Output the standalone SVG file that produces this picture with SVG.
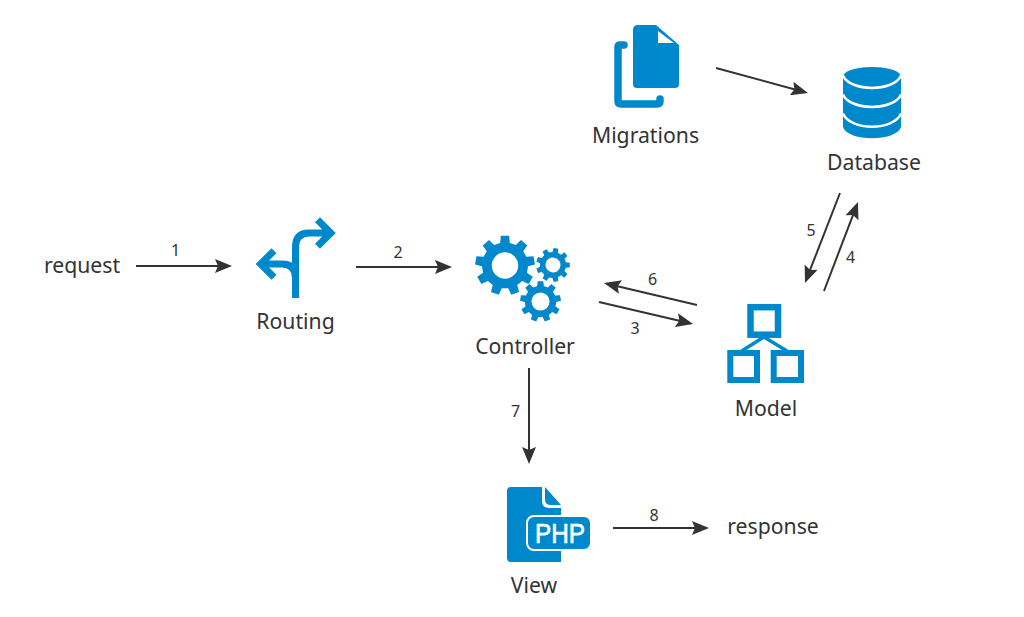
<svg xmlns="http://www.w3.org/2000/svg" width="1024" height="617" viewBox="0 0 1024 617">
<style>
text{font-family:"Noto Sans","Open Sans",sans-serif;fill:#333}
.l{font-size:21.200px;text-anchor:middle}
.n{font-size:16px;text-anchor:middle}
.c line{stroke:#333;stroke-width:2;marker-end:url(#a)}
.i{fill:#0088cc}
.s{fill:none;stroke:#0088cc}
</style>
<defs>
<marker id="a" markerUnits="userSpaceOnUse" markerWidth="18" markerHeight="14" refX="14" refY="7" orient="auto"><path d="M0 0L17 7L0 14L3 7Z" fill="#333"/></marker>
<path id="gear" fill-rule="evenodd" d="M-16 -75.300L-13.900 -99L13.900 -99L16 -75.300L36.200 -68L53 -84.800L74.300 -66.900L60.700 -47.400L71.400 -28.800L95.100 -30.900L99.900 -3.500L77 2.700L73.200 23.800L92.700 37.500L78.800 61.600L57.200 51.500L40.800 65.300L46.900 88.300L20.800 97.800L10.700 76.200L-10.700 76.200L-20.800 97.800L-46.900 88.300L-40.800 65.300L-57.200 51.500L-78.800 61.600L-92.700 37.500L-73.200 23.800L-77 2.700L-99.900 -3.500L-95.100 -30.900L-71.400 -28.800L-60.700 -47.400L-74.300 -66.900L-53 -84.800L-36.200 -68ZM44 0A44 44 0 1 0 -44 0A44 44 0 1 0 44 0Z"/>
</defs>
<rect width="1024" height="617" fill="#fff"/>
<g id="connectors" class="c">
<line x1="136" y1="266" x2="229" y2="266"/>
<line x1="356" y1="267" x2="449" y2="267"/>
<line x1="599" y1="302" x2="690.100" y2="323.300"/>
<line x1="824" y1="291" x2="856.900" y2="204.800"/>
<line x1="840" y1="193" x2="806.100" y2="280.200"/>
<line x1="697" y1="305" x2="606.900" y2="283.700"/>
<line x1="529" y1="368" x2="529" y2="461"/>
<line x1="613" y1="528" x2="706" y2="528"/>
<line x1="716" y1="68" x2="805.100" y2="92.200"/>
<text class="n" x="175.500" y="256">1</text>
<text class="n" x="398" y="257.500">2</text>
<text class="n" x="635" y="333.500">3</text>
<text class="n" x="850.500" y="262.500">4</text>
<text class="n" x="811" y="235.500">5</text>
<text class="n" x="652.500" y="284.500">6</text>
<text class="n" x="515.500" y="416.500">7</text>
<text class="n" x="654" y="520.500">8</text>
</g>
<g id="request"><text class="l" x="82" y="273">request</text></g>
<g id="routing">
<path class="s" stroke-width="7" d="M295.500 298V247Q295.500 233 309 233H330M317.500 219.700L330.800 233L317.500 246.300M295.500 298V278Q295.500 264 282 264H262M274 250.700L260.600 264L274 277.300"/>
<text class="l" x="295.500" y="329">Routing</text>
</g>
<g id="controller" class="i">
<use href="#gear" transform="translate(505 265.500) scale(.3)"/>
<use href="#gear" transform="translate(553 265) rotate(10) scale(.17)"/>
<use href="#gear" transform="translate(540.500 301.500) scale(.205)"/>
<text class="l" x="525" y="354">Controller</text>
</g>
<g id="migrations">
<path class="i" d="M638 25H656L679 45V84Q679 88 675 88H637Q633 88 633 84V30Q633 25 638 25Z"/>
<path fill="#fff" d="M658 31L674 43H658Z"/>
<path class="s" stroke-width="7.500" stroke-linecap="round" d="M624 45H620Q618 45 618 47V101Q618 104 621 104H657Q660 104 660 101V99"/>
<text class="l" x="645.500" y="143">Migrations</text>
</g>
<g id="database">
<path class="i" d="M843 77C843 63.500 901 63.500 901 77V127C896 142 848 142 843 127Z"/>
<path fill="none" stroke="#fff" stroke-width="2.500" d="M843 75.500C850 92 894 92 901 75.500M843 94.500C850 111 894 111 901 94.500M843 113.500C850 131 894 131 901 113.500"/>
<text class="l" x="874" y="170">Database</text>
</g>
<g id="model">
<path class="s" stroke-width="3.500" d="M764 337L741.700 351M764 337L787 351"/>
<rect class="s" x="750.500" y="307.200" width="27.500" height="27.500" stroke-width="6.500"/>
<rect class="s" x="730.300" y="353" width="26.700" height="27" stroke-width="6"/>
<rect class="s" x="773.700" y="353" width="27.300" height="27" stroke-width="6"/>
<text class="l" x="766" y="416">Model</text>
</g>
<g id="view">
<path class="i" d="M511 487H542V501Q542 508 549 508H561V562H511Q507 562 507 558V491Q507 487 511 487Z"/>
<path class="i" d="M545 487L561 505H551Q545 505 545 499Z"/>
<rect class="i" x="527" y="516" width="64" height="34" rx="7" stroke="#fff" stroke-width="2"/>
<text x="535" y="543" textLength="50" lengthAdjust="spacingAndGlyphs" style="font-family:'Liberation Sans',sans-serif;font-size:28px;fill:#fff;stroke:#fff;stroke-width:.7">PHP</text>
<text class="l" x="534" y="593">View</text>
</g>
<g id="response"><text class="l" x="773" y="534">response</text></g>
</svg>
